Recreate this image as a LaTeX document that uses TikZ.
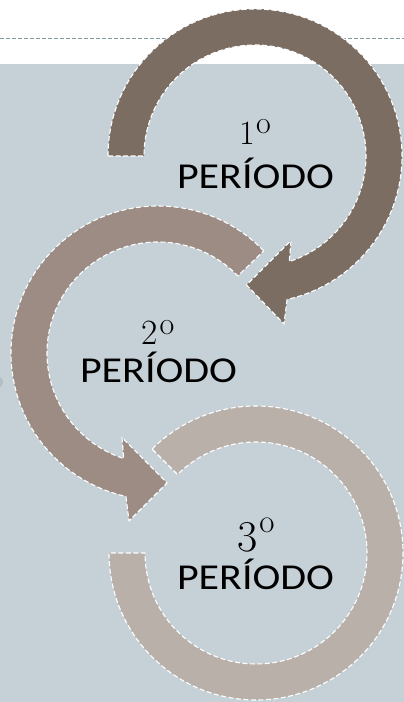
\documentclass[tikz,border=0pt]{standalone}
\usepackage{fontspec}
\newfontfamily\calib{Carlito}
\usetikzlibrary{calc}
\definecolor{bgblue}{HTML}{C6D1D7}
\definecolor{topline}{HTML}{7F9A9A}
\definecolor{arcA}{HTML}{7B6D62}
\definecolor{arcB}{HTML}{9C8C84}
\definecolor{arcC}{HTML}{B9B0AA}
\definecolor{blob}{HTML}{B4BFC5}
\tikzset{
  band/.style={draw=white, line width=1.1pt, dash pattern=on 5pt off 2.5pt, line join=round},
  per/.style={inner sep=0pt, anchor=base, font=\calib\fontsize{36.5}{36.5}\selectfont},
  ordn/.style={inner sep=0pt, anchor=base}
}
\begin{document}
\begin{tikzpicture}[x=1pt,y=1pt]
\useasboundingbox (0,0) rectangle (404,702);
\clip (0,0) rectangle (404,702);
\fill[white] (0,0) rectangle (404,702);
\fill[bgblue] (0,0) rectangle (404,638);
\draw[topline, line width=1pt, dash pattern=on 4pt off 2pt] (0,663) -- (404,663);
\fill[blob] (-3,320) circle (6);
% centres
\coordinate (C1) at (255,546);
\coordinate (C2) at (158,349);
\coordinate (C3) at (256,149);
% arc 3 (no head)
\path[band, fill=arcC] ($(C3)+(135:147)$) arc[start angle=135, end angle=-180, radius=147]
  -- ($(C3)+(180:111)$) arc[start angle=-180, end angle=135, radius=111] -- cycle;
% arrow 2
\path[band, fill=arcB] ($(C2)+(44:147)$) arc[start angle=44, end angle=257.4, radius=147]
  -- ($(C2)+(-29,-168)$) -- ($(C2)+(9,-130)$) -- ($(C2)+(-36,-84.5)$)
  -- ($(C2)+(252:111)$) arc[start angle=252, end angle=44, radius=111] -- cycle;
% arrow 1
\path[band, fill=arcA] ($(C1)+(180:147)$) arc[start angle=180, end angle=-77.4, radius=147]
  -- ($(C1)+(29,-168)$) -- ($(C1)+(-8.5,-129)$) -- ($(C1)+(36,-84.5)$)
  -- ($(C1)+(-72:111)$) arc[start angle=-72, end angle=180, radius=111] -- cycle;
% texts
\node[ordn] (n1) at (255,557) {\fontsize{34}{34}\selectfont 1\kern1.5pt\raisebox{11pt}{\fontsize{32}{32}\selectfont o}};
\node[per] (p1) at (255.5,513) {\scalebox{1.15}[1]{PERÍODO}};
\node[ordn] (n2) at (158,357) {\fontsize{35.5}{35.5}\selectfont 2\kern1.5pt\raisebox{10pt}{\fontsize{32}{32}\selectfont o}};
\node[per] (p2) at (158.5,319) {\scalebox{1.15}[1]{PERÍODO}};
\node[ordn] (n3) at (256,150) {\fontsize{44}{44}\selectfont 3\kern1.5pt\raisebox{19pt}{\fontsize{33}{33}\selectfont o}};
\node[per] (p3) at (255.5,112) {\scalebox{1.15}[1]{PERÍODO}};
\end{tikzpicture}
\end{document}
